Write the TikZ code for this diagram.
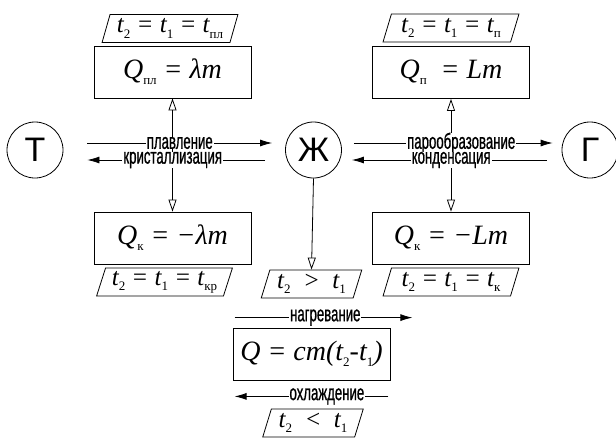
\documentclass[tikz,border=0pt]{standalone}
\usepackage{fontspec}
\setmainfont{Liberation Serif}
\newfontfamily\lblfont[FakeStretch=0.6, FakeBold=0.8]{Liberation Sans}
\newfontfamily\phasefont{Liberation Sans}
\usepackage{tikz}
\usetikzlibrary{arrows.meta, shapes.geometric, calc}

\newcommand{\sbs}[1]{\raisebox{-0.45ex}{\upshape\fontsize{13}{13}\selectfont #1}}

\begin{document}
\begin{tikzpicture}[x=1pt, y=-1pt,
  phase/.style={draw, circle, minimum size=56pt, inner sep=0pt, line width=0.8pt,
    font=\phasefont\fontsize{34}{34}\selectfont},
  heatbox/.style={draw, minimum width=157pt, minimum height=52pt, inner sep=0pt,
    line width=0.8pt, font=\fontsize{28}{28}\selectfont\itshape},
  cond/.style={draw, trapezium, trapezium left angle=70, trapezium right angle=110,
    trapezium stretches=true, minimum width=#1, minimum height=28pt, inner sep=0pt,
    line width=0.8pt, font=\fontsize{25}{25}\selectfont\itshape},
  cond/.default=136pt,
  lbl/.style={fill=white, inner xsep=1pt, inner ysep=0pt,
    font=\lblfont\fontsize{22}{22}\selectfont},
  flow/.style={line width=0.8pt, -{Latex[length=12pt, width=7pt]}},
  link/.style={line width=0.8pt,
    {Triangle[open, length=12pt, width=8pt]}-{Triangle[open, length=12pt, width=8pt]}},
  drop/.style={line width=0.8pt, -{Triangle[open, length=12pt, width=8pt]}}
]
  \useasboundingbox (0,0) rectangle (616,437);

  % phases
  \node[phase] (T) at (35,150) {Т};
  \node[phase] (Zh) at (313.5,150) {Ж};
  \node[phase] (G) at (590,150) {Г};

  % melting / crystallisation
  \node[heatbox] (boxPl) at (172.5,72) {Q\sbs{пл} = λm};
  \node[cond] (parPl) at (170,28.5) {t\sbs{2} = t\sbs{1} = t\sbs{пл}};
  \node[heatbox] (boxKr) at (172.5,238) {Q\sbs{к} = −λm};
  \node[cond] (parKr) at (164.5,282) {t\sbs{2} = t\sbs{1} = t\sbs{кр}};

  % vaporisation / condensation
  \node[heatbox] (boxP) at (451,72.5) {Q\sbs{п} \ = Lm};
  \node[cond] (parP) at (451,28) {t\sbs{2} = t\sbs{1} = t\sbs{п}};
  \node[heatbox] (boxK) at (451,238) {Q\sbs{к} = −Lm};
  \node[cond] (parK) at (451,282) {t\sbs{2} = t\sbs{1} = t\sbs{к}};

  % heating / cooling
  \node[cond=101pt] (parUp) at (311.5,284) {t\sbs{2} \ > \ t\sbs{1}};
  \node[heatbox] (boxC) at (311.5,354) {Q = cm(t\sbs{2}-t\sbs{1})};
  \node[cond=101pt] (parDn) at (313,423) {t\sbs{2} \ < \ t\sbs{1}};

  \draw[link] (boxPl.south) -- (boxKr.north);
  \draw[link] (boxP.south) -- (boxK.north);
  \draw[drop] (Zh.south) -- (parUp.north);

  \draw[flow] ($(T.east)+(24,-7)$) -- node[lbl] {плавление} ($(Zh.west)+(-13,-7)$);
  \draw[flow] ($(Zh.west)+(-20,10)$) -- node[lbl, pos=0.52] {кристаллизация} ($(T.east)+(24,10)$);
  \draw[flow] ($(Zh.east)+(12,-7)$) -- node[lbl, pos=0.54] {парообразование} ($(G.west)+(-9,-7)$);
  \draw[flow] ($(G.west)+(-15,10)$) -- node[lbl, pos=0.49] {конденсация} ($(Zh.east)+(10,10)$);
  \draw[flow] ($(boxC.north west)+(2,-10)$) -- node[lbl, pos=0.51] {нагревание} ($(boxC.north east)+(22,-10)$);
  \draw[flow] ($(boxC.south east)+(-2,16)$) -- node[lbl, pos=0.4] {охлаждение} ($(boxC.south west)+(2,16)$);
\end{tikzpicture}
\end{document}
